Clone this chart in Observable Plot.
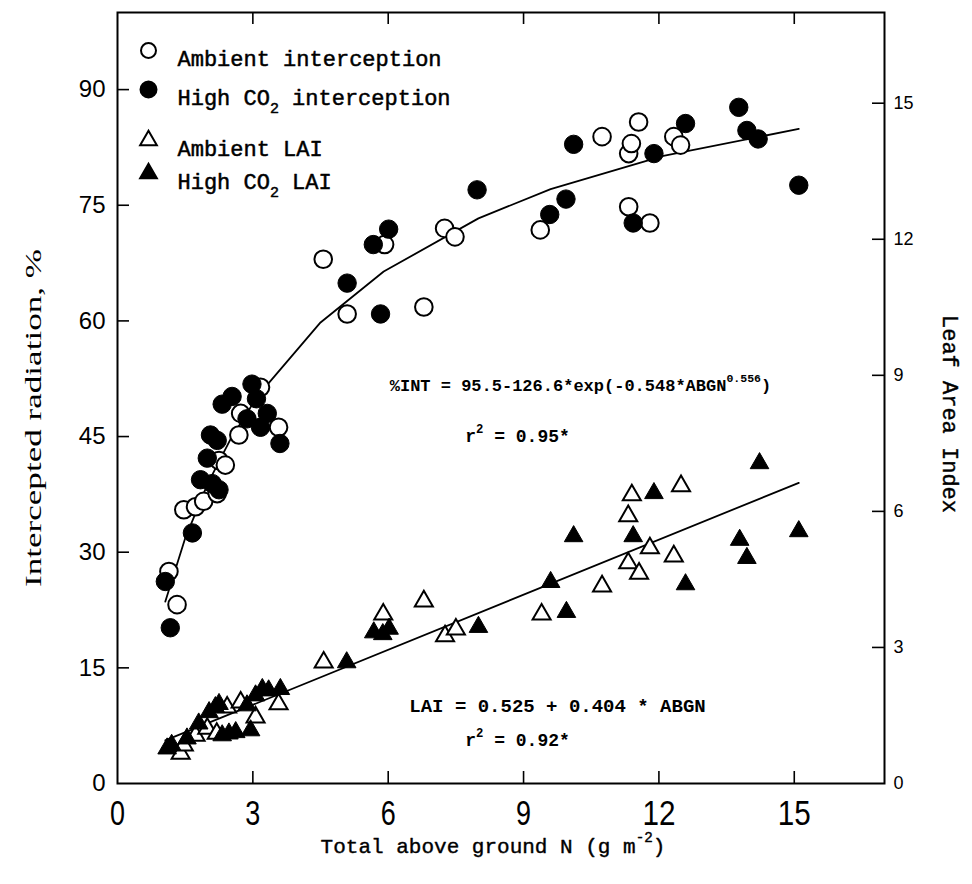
<!DOCTYPE html>
<html><head><meta charset="utf-8">
<script src="https://cdn.jsdelivr.net/npm/d3@7"></script>
<script src="https://cdn.jsdelivr.net/npm/@observablehq/plot@0.6"></script>
<style>
body{margin:0;background:#fff;}
#chart{width:972px;height:884px;}
</style></head><body><div id="chart"></div>
<script>
// ---- data ----
// Ambient interception (%), open circles
const ambIntX = [1.14,1.32,1.47,1.73,1.91,2.21,2.25,2.39,2.69,2.73,3.17,3.57,4.56,5.09,5.92,6.79,7.25,7.48,9.37,10.74,11.33,11.39,11.55,11.33,11.80,12.33,12.48];
const ambIntY = [27.5,23.2,35.5,35.9,36.6,37.6,41.9,41.3,45.2,48.0,51.4,46.2,68.0,60.9,69.9,61.8,72.0,70.9,71.8,83.9,81.7,83.0,85.8,74.8,72.7,83.9,82.8];
// High CO2 interception (%), filled circles
const hiIntX = [1.06,1.17,1.66,1.84,1.99,2.06,2.10,2.21,2.25,2.32,2.54,2.87,2.98,3.08,3.17,3.32,3.60,5.09,5.67,5.83,6.01,7.97,9.58,9.94,10.11,11.43,11.89,12.59,13.77,13.95,14.20,15.10];
const hiIntY = [26.2,20.2,32.5,39.4,42.2,45.2,38.9,44.5,38.1,49.2,50.2,47.3,51.8,49.9,46.2,48.0,44.1,64.9,69.9,60.9,71.9,77.0,73.8,75.8,82.9,72.7,81.7,85.6,87.7,84.7,83.6,77.6];
// Ambient LAI, open triangles
const ambLaiX = [1.40,1.47,1.73,1.99,2.20,2.43,2.73,3.06,3.57,4.57,5.89,6.79,7.26,7.50,9.40,10.74,11.32,11.56,11.80,12.33,11.32,11.40,12.49];
const ambLaiY = [0.66,0.84,1.06,1.21,1.10,1.68,1.79,1.46,1.75,2.67,3.73,4.02,3.25,3.40,3.73,4.35,4.86,4.63,5.19,5.01,5.90,6.36,6.56];
// High CO2 LAI, filled triangles
const hiLaiX = [1.10,1.20,1.54,1.80,2.03,2.17,2.25,2.32,2.47,2.62,2.95,2.87,3.06,3.21,3.35,3.61,5.08,5.68,5.88,6.02,8.00,9.60,9.95,10.11,11.43,11.89,12.59,13.79,13.95,14.23,15.10];
const hiLaiY = [0.77,0.85,0.99,1.32,1.57,1.68,1.75,1.06,1.10,1.13,1.17,1.72,1.94,2.08,2.05,2.08,2.67,3.33,3.29,3.41,3.45,4.44,3.78,5.45,5.45,6.40,4.39,5.37,4.97,7.06,5.56];
// fitted curves, vertices
const fitIntX = [1.06,1.5,2.0,2.5,3.1,4.5,5.9,8.0,9.6,12.1,15.1];
const fitIntY = [23.6,31.8,38.9,44.6,50.2,59.8,66.4,73.3,77.1,81.4,84.9];
const fitLaiX = [1.06,15.1];
const fitLaiY = [0.95,6.63];
// ticks
const xTicks = [0,3,6,9,12,15];
const leftTicks = [0,15,30,45,60,75,90];
const rightTicks = [0,3,6,9,12,15];
const legendLabels = ["Ambient interception","High CO_{2} interception","Ambient LAI","High CO_{2} LAI"];
const eqInt = "%INT = 95.5-126.6*exp(-0.548*ABGN^{0.556})";
const r2Int = "r^{2} = 0.95*";
const eqLai = "LAI = 0.525 + 0.404 * ABGN";
const r2Lai = "r^{2} = 0.92*";

// ---- layout ----
const W = 972, H = 884, mL = 117, mR = 88, mT = 12, mB = 101;
const innerW = W - mL - mR, innerH = H - mT - mB;
const yMax = 100, laiMax = 17, K = yMax / laiMax; // twin axis factor
const mono = "'Liberation Mono','DejaVu Sans Mono',monospace";
const sans = "'Liberation Sans',Arial,sans-serif";
const serif = "'Liberation Serif','Times New Roman',serif";

const pts = (xs, ys, f = 1) => xs.map((x, i) => ({x, y: ys[i] * f}));
const tl = 12;

const legendMarks = [];
const legendDy = [38, 77, 128, 161];
const legendSym = [
  {symbol: "circle", r: 7.5, fill: "white"},
  {symbol: "circle", r: 8, fill: "black"},
  {symbol: "triangle", r: 6.2, fill: "white"},
  {symbol: "triangle", r: 6.2, fill: "black"}
];
legendLabels.forEach((lab, i) => {
  legendMarks.push(Plot.dot([lab], {frameAnchor: "top-left", dx: 31, dy: legendDy[i], symbol: legendSym[i].symbol, r: legendSym[i].r, fill: legendSym[i].fill, stroke: "black", strokeWidth: 2}));
  legendMarks.push(Plot.text([lab], {frameAnchor: "top-left", dx: 60, dy: legendDy[i], text: d => d, textAnchor: "start", fontSize: 22, fontFamily: mono, fill: "black", stroke: "black", strokeWidth: 0.5}));
});

const plot = Plot.plot({
  width: W, height: H,
  marginLeft: mL, marginRight: mR, marginTop: mT, marginBottom: mB,
  style: {background: "white", color: "black", fontFamily: sans},
  x: {domain: [0, 17], label: null},
  y: {domain: [0, yMax], label: null},
  marks: [
    Plot.frame({strokeWidth: 2}),
    Plot.tickX(xTicks.slice(1), {x: d => d, insetTop: innerH - tl, strokeWidth: 1.6}),
    Plot.tickX(xTicks.slice(1), {x: d => d, insetBottom: innerH - tl, strokeWidth: 1.6}),
    Plot.tickY(leftTicks.slice(1), {y: d => d, insetRight: innerW - tl, strokeWidth: 1.6}),
    Plot.tickY(rightTicks.slice(1), {y: d => d * K, insetLeft: innerW - tl, strokeWidth: 1.6}),
    Plot.axisX(xTicks, {tickSize: 0, tickPadding: 17, fontSize: 35, fontFamily: sans, label: null}),
    Plot.axisY(leftTicks, {anchor: "left", tickSize: 0, tickPadding: 12, fontSize: 24, label: null}),
    Plot.axisY(rightTicks.map(d => d * K), {anchor: "right", tickSize: 0, tickPadding: 9, fontSize: 18, tickFormat: d => String(Math.round(d / K)), label: null}),
    Plot.text(["Intercepted radiation, %"], {frameAnchor: "left", dx: -84, dy: 20, rotate: -90, textAnchor: "middle", fontSize: 23, fontFamily: serif, fill: "black"}),
    Plot.text(["Leaf Area Index"], {frameAnchor: "right", dx: 66, dy: 16, rotate: 90, textAnchor: "middle", fontSize: 22, fontFamily: mono, fill: "black", stroke: "black", strokeWidth: 0.4}),
    Plot.text(["Total above ground N (g m^{-2})"], {frameAnchor: "bottom", dx: -8, dy: 69, textAnchor: "middle", fontSize: 21, fontFamily: mono, fill: "black", stroke: "black", strokeWidth: 0.4}),
    // fitted lines
    Plot.line(pts(fitIntX, fitIntY), {x: "x", y: "y", stroke: "black", strokeWidth: 1.8}),
    Plot.line(pts(fitLaiX, fitLaiY, K), {x: "x", y: "y", stroke: "black", strokeWidth: 1.8}),
    // points
    Plot.dot(pts(ambIntX, ambIntY), {x: "x", y: "y", r: 8.8, fill: "white", stroke: "black", strokeWidth: 2}),
    Plot.dot(pts(hiIntX, hiIntY), {x: "x", y: "y", r: 9.2, fill: "black", stroke: "black", strokeWidth: 1}),
    Plot.dot(pts(ambLaiX, ambLaiY, K), {x: "x", y: "y", symbol: "triangle", r: 6.7, fill: "white", stroke: "black", strokeWidth: 2}),
    Plot.dot(pts(hiLaiX, hiLaiY, K), {x: "x", y: "y", symbol: "triangle", r: 6.9, fill: "black", stroke: "black", strokeWidth: 1}),
    // annotations
    Plot.text([eqInt], {frameAnchor: "top-left", dx: 463, dy: 366, textAnchor: "middle", fontSize: 17, fontWeight: "bold", fontFamily: mono, fill: "black"}),
    Plot.text([r2Int], {frameAnchor: "top-left", dx: 400, dy: 417, textAnchor: "middle", fontSize: 18, fontWeight: "bold", fontFamily: mono, fill: "black"}),
    Plot.text([eqLai], {frameAnchor: "top-left", dx: 440, dy: 686, textAnchor: "middle", fontSize: 19, fontWeight: "bold", fontFamily: mono, fill: "black"}),
    Plot.text([r2Lai], {frameAnchor: "top-left", dx: 400, dy: 721, textAnchor: "middle", fontSize: 18, fontWeight: "bold", fontFamily: mono, fill: "black"}),
    ...legendMarks
  ]
});

// sub/superscripts written as _{..} / ^{..}
function applyRich(svg) {
  svg.querySelectorAll("text").forEach(t => {
    const s = t.textContent;
    if (!/[_^]\{/.test(s)) return;
    const fs = parseFloat(t.getAttribute("font-size")) || parseFloat(getComputedStyle(t).fontSize) || 16;
    const parts = s.split(/([_^]\{[^}]*\})/).filter(p => p !== "");
    while (t.firstChild) t.removeChild(t.firstChild);
    let shift = 0;
    for (const p of parts) {
      const m = p.match(/^([_^])\{([^}]*)\}$/);
      const ts = document.createElementNS("http://www.w3.org/2000/svg", "tspan");
      let target = 0;
      if (m) {
        target = m[1] === "^" ? -0.5 * fs : 0.35 * fs;
        ts.setAttribute("font-size", 0.68 * fs);
        ts.textContent = m[2];
      } else ts.textContent = p;
      ts.setAttribute("dy", target - shift);
      ts.setAttribute("style", "white-space:pre");
      shift = target;
      t.appendChild(ts);
    }
  });
}
document.getElementById("chart").appendChild(plot);
applyRich(plot);
// condensed lettering: left title and the tall narrow x tick labels
plot.querySelectorAll("text").forEach(t => {
  if (t.textContent === "Intercepted radiation, %") { t.setAttribute("textLength", 338); t.setAttribute("lengthAdjust", "spacingAndGlyphs"); }
});
plot.querySelectorAll("[aria-label='x-axis tick label'] text").forEach(t => {
  t.setAttribute("textLength", 15 * t.textContent.length + 3 * (t.textContent.length - 1));
  t.setAttribute("lengthAdjust", "spacingAndGlyphs");
});
</script>
</body></html>
